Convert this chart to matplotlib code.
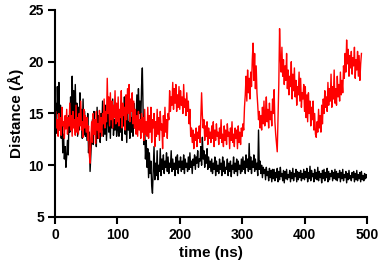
import numpy as np
import matplotlib
matplotlib.use("Agg")
import matplotlib.pyplot as plt

# sampling step of the traces (ns)
step = 1.25

black = [
    14.2, 16.0, 13.1, 17.6, 15.0, 18.0, 13.4, 15.8, 12.6, 14.4,
    11.2, 13.0, 10.6, 11.8, 9.8, 10.9, 12.4, 11.0, 14.8, 13.2,
    16.6, 14.0, 18.6, 15.2, 17.2, 13.6, 17.8, 14.4, 16.0, 12.8,
    15.6, 13.4, 17.0, 14.2, 15.4, 12.6, 16.4, 13.0, 15.2, 12.8,
    # 50 ns
    14.6, 12.4, 15.0, 11.2, 13.2, 9.4, 11.0, 12.6, 14.4, 12.0,
    15.2, 13.0, 14.0, 11.8, 15.6, 12.6, 14.8, 13.2, 12.2, 15.0,
    13.4, 16.2, 12.8, 14.6, 13.0, 15.8, 12.4, 14.2, 16.0, 13.2,
    14.8, 12.6, 15.4, 13.6, 16.4, 12.9, 14.4, 13.4, 15.8, 12.8,
    # 100 ns
    13.6, 15.8, 12.8, 14.6, 13.2, 16.2, 12.4, 15.0, 13.8, 16.6,
    13.0, 14.8, 12.2, 15.4, 13.4, 14.2, 12.6, 15.6, 13.2, 14.6,
    12.8, 16.0, 13.6, 15.2, 14.4, 16.8, 13.8, 17.4, 15.0, 16.2,
    14.0, 17.6, 19.4, 15.2, 12.0, 13.8, 10.6, 12.4, 9.8, 11.6,
    # 150 ns
    8.8, 11.2, 9.2, 10.4, 8.0, 7.3, 9.6, 11.8, 8.6, 10.2,
    9.0, 11.4, 8.6, 10.0, 9.4, 11.6, 9.0, 10.6, 9.6, 11.0,
    9.2, 10.4, 9.8, 11.2, 9.4, 10.8, 9.2, 10.2, 9.8, 11.4,
    9.4, 10.6, 9.6, 10.2, 9.0, 10.8, 9.6, 11.0, 9.2, 10.4,
    # 200 ns
    9.8, 10.8, 9.4, 10.4, 9.6, 11.0, 9.2, 10.6, 9.8, 10.2,
    9.4, 10.8, 9.6, 11.2, 9.8, 10.4, 9.2, 10.6, 10.0, 11.0,
    9.6, 10.8, 10.2, 11.4, 9.8, 10.6, 10.4, 11.8, 10.0, 12.7,
    10.6, 11.4, 9.8, 11.0, 10.2, 11.6, 9.6, 10.8, 9.8, 10.4,
    # 250 ns
    9.4, 10.6, 9.2, 10.2, 9.6, 10.8, 9.0, 10.4, 9.4, 10.0,
    9.2, 10.6, 9.6, 10.2, 9.0, 10.8, 9.4, 10.4, 9.2, 9.8,
    9.6, 10.6, 9.0, 10.2, 9.4, 10.4, 8.9, 10.0, 9.6, 10.8,
    9.2, 10.2, 9.4, 10.6, 9.0, 10.4, 9.6, 10.0, 9.2, 10.6,
    # 300 ns
    9.4, 10.8, 9.6, 10.4, 9.2, 11.0, 9.8, 10.6, 9.4, 12.1,
    9.6, 10.8, 9.2, 10.4, 9.8, 11.0, 9.4, 10.6, 9.6, 10.2,
    9.0, 13.4, 9.6, 10.4, 9.2, 10.0, 8.8, 9.8, 9.2, 9.6,
    8.6, 9.8, 9.0, 9.4, 8.5, 9.7, 8.8, 9.5, 8.4, 9.6,
    # 350 ns
    8.7, 9.6, 8.5, 9.3, 8.8, 9.7, 8.4, 9.4, 8.6, 9.8,
    8.9, 9.2, 8.5, 9.5, 8.3, 9.4, 8.7, 9.6, 8.6, 9.1,
    8.8, 9.5, 8.4, 9.3, 8.7, 9.7, 8.5, 9.2, 8.9, 9.6,
    8.4, 9.4, 8.6, 9.3, 8.8, 9.5, 8.5, 9.2, 8.7, 9.6,
    # 400 ns
    8.6, 9.4, 8.8, 9.7, 8.4, 9.3, 8.7, 9.9, 8.5, 9.5,
    8.9, 9.2, 8.4, 9.6, 8.7, 9.3, 8.6, 9.8, 8.5, 9.4,
    8.8, 9.2, 8.3, 9.5, 8.7, 9.6, 8.5, 9.3, 8.8, 9.7,
    8.4, 9.4, 8.6, 9.2, 8.9, 9.5, 8.5, 9.3, 8.7, 9.6,
    # 450 ns
    8.6, 9.4, 8.5, 9.2, 8.8, 9.5, 8.4, 9.3, 8.7, 9.6,
    8.5, 9.1, 8.8, 9.4, 8.3, 9.2, 8.6, 9.5, 8.7, 9.0,
    8.5, 9.3, 8.8, 9.4, 8.4, 9.2, 8.6, 9.5, 8.5, 9.1,
    8.7, 9.3, 8.4, 9.4, 8.6, 9.0, 8.5, 9.2, 8.7, 9.1,
    8.8,
]

red = [
    13.2, 15.2, 13.6, 14.4, 12.8, 15.0, 13.4, 14.6, 12.9, 15.6,
    13.8, 14.2, 12.6, 14.8, 13.5, 15.4, 13.0, 14.6, 13.8, 16.0,
    13.4, 14.8, 12.8, 15.2, 13.6, 14.4, 12.9, 15.8, 13.2, 14.6,
    13.0, 15.0, 13.8, 16.2, 13.4, 14.2, 12.7, 15.4, 13.6, 14.8,
    # 50 ns
    13.2, 14.6, 12.4, 13.8, 11.0, 10.2, 12.6, 14.2, 12.2, 15.0,
    13.0, 14.4, 12.1, 15.2, 13.4, 14.0, 12.6, 15.3, 13.2, 14.6,
    12.8, 15.0, 14.0, 16.4, 13.6, 15.2, 14.2, 18.4, 15.0, 16.6,
    13.8, 17.0, 14.4, 16.2, 13.6, 15.8, 14.6, 17.2, 14.0, 16.0,
    # 100 ns
    14.2, 16.6, 13.8, 15.4, 14.6, 17.2, 13.6, 16.0, 14.8, 15.6,
    13.4, 16.8, 14.4, 17.4, 15.0, 17.8, 14.2, 16.4, 15.2, 17.0,
    14.0, 16.2, 13.6, 15.4, 13.0, 14.8, 12.8, 15.2, 13.4, 14.4,
    12.6, 15.0, 13.2, 14.6, 12.4, 15.4, 13.0, 14.2, 12.8, 15.6,
    # 150 ns
    12.6, 14.8, 13.2, 15.6, 12.2, 14.4, 13.6, 15.0, 11.8, 14.2,
    12.8, 15.4, 13.0, 14.6, 12.4, 15.2, 13.4, 14.0, 11.6, 14.8,
    12.8, 15.6, 13.2, 14.4, 12.6, 15.0, 14.4, 17.2, 15.2, 16.6,
    15.8, 18.0, 15.4, 17.4, 16.0, 17.8, 15.2, 16.8, 15.6, 17.6,
    # 200 ns
    15.4, 17.2, 15.8, 16.6, 15.0, 17.8, 15.6, 16.4, 14.8, 17.0,
    15.2, 16.2, 14.0, 15.4, 12.8, 13.6, 12.2, 13.4, 11.6, 13.0,
    12.4, 13.6, 11.8, 13.2, 12.6, 13.8, 12.2, 14.6, 17.0, 14.8,
    13.6, 14.4, 12.4, 13.8, 12.8, 14.2, 12.0, 13.6, 12.6, 13.2,
    # 250 ns
    12.2, 13.8, 12.6, 14.2, 11.8, 13.4, 12.4, 14.0, 12.8, 13.2,
    12.0, 13.6, 12.6, 14.4, 12.2, 13.0, 11.8, 13.8, 12.4, 13.4,
    12.0, 14.0, 12.8, 13.2, 11.6, 13.6, 12.4, 14.2, 12.2, 13.0,
    11.8, 13.6, 12.6, 13.4, 11.6, 13.8, 12.2, 13.2, 12.0, 13.6,
    # 300 ns
    12.8, 14.0, 13.4, 15.6, 16.8, 18.6, 16.2, 19.2, 17.0, 18.4,
    16.4, 19.0, 17.6, 20.2, 21.8, 18.2, 20.8, 17.4, 19.6, 17.0,
    15.8, 14.4, 15.2, 13.6, 14.8, 13.4, 15.6, 14.0, 16.2, 13.8,
    15.0, 16.6, 14.2, 15.4, 13.6, 16.0, 14.4, 15.2, 13.8, 16.4,
    # 350 ns
    15.0, 17.3, 14.2, 13.0, 12.2, 11.3, 14.6, 17.8, 23.2, 20.4,
    19.0, 21.4, 18.6, 20.2, 17.8, 19.6, 18.2, 20.8, 17.4, 19.2,
    16.8, 18.6, 17.6, 20.0, 16.4, 18.8, 17.2, 19.4, 16.6, 18.2,
    15.8, 17.6, 16.8, 19.0, 16.2, 18.4, 15.6, 17.0, 16.4, 17.8,
    # 400 ns
    15.2, 17.6, 14.6, 16.8, 14.2, 17.0, 15.0, 16.2, 13.8, 15.6,
    14.4, 16.2, 13.4, 15.0, 13.0, 12.7, 14.2, 13.2, 15.4, 13.6,
    14.8, 13.2, 15.8, 14.0, 16.4, 15.0, 17.2, 15.6, 16.6, 15.2,
    18.0, 15.8, 17.4, 16.2, 18.8, 15.6, 17.6, 16.4, 19.2, 16.0,
    # 450 ns
    17.4, 15.8, 18.6, 16.6, 17.8, 16.2, 19.0, 16.8, 18.2, 17.0,
    19.6, 18.4, 20.8, 19.0, 22.1, 19.8, 21.2, 18.6, 20.6, 19.4,
    21.0, 18.8, 20.4, 19.6, 21.4, 18.4, 20.2, 19.2, 21.0, 18.6,
    20.6, 18.2, 19.8, 20.8,
]

t_black = np.arange(len(black)) * step
t_red = np.arange(len(red)) * step

plt.rcParams['font.family'] = ['Liberation Sans', 'DejaVu Sans']
plt.rcParams['font.weight'] = 'bold'

fig = plt.figure(figsize=(3.83, 2.76), dpi=100)
ax = fig.add_axes([0.1436, 0.2138, 0.8144, 0.75])

ax.plot(t_black, black, color='black', lw=1.0)
ax.plot(t_red, red, color='#ff0000', lw=1.0)

ax.set_xlim(0, 500)
ax.set_ylim(5, 25)
ax.set_xticks([0, 100, 200, 300, 400, 500])
ax.set_yticks([5, 10, 15, 20, 25])

for side in ['top', 'right']:
    ax.spines[side].set_visible(False)
for side in ['left', 'bottom']:
    ax.spines[side].set_linewidth(1.5)

ax.tick_params(width=1.5, length=5, labelsize=10, pad=3)
for lab in ax.get_xticklabels() + ax.get_yticklabels():
    lab.set_fontweight('bold')

ax.set_xlabel('time (ns)', fontsize=11, fontweight='bold', labelpad=3)
ax.set_ylabel('Distance (Å)', fontsize=11, fontweight='bold', labelpad=3)

fig.savefig('out.png', dpi=100)
